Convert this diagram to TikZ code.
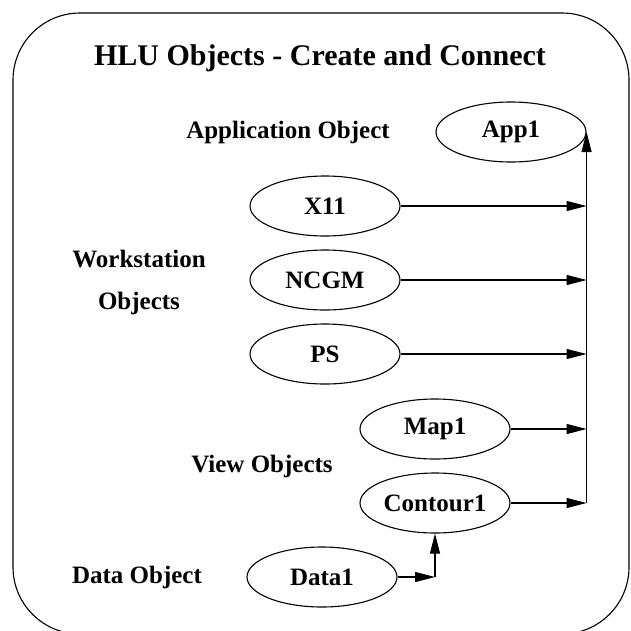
\documentclass[tikz,border=0pt]{standalone}
\usepackage{fontspec}
\setmainfont{Liberation Serif}
\usetikzlibrary{shapes.geometric,arrows.meta,positioning}
\tikzstyle{object} = [ellipse, draw, line width=1.1pt, minimum width=150pt,
    minimum height=60pt, inner sep=0pt, font=\bfseries\fontsize{25}{30}\selectfont]
\tikzstyle{label} = [font=\bfseries\fontsize{25}{30}\selectfont, align=center]
\tikzstyle{line} = [draw, line width=1.1pt, -{Triangle[length=20pt,width=10pt]}]

\begin{document}
\begin{tikzpicture}[x=1pt, y=-1pt, node distance = 74pt]
    \useasboundingbox (0,0) rectangle (631,630);
    % Frame and title
    \draw [line width=1.1pt, rounded corners=67pt] (13,13) rectangle (629,634);
    \node [font=\bfseries\fontsize{30}{36}\selectfont] (title) at (320,58) {HLU Objects - Create and Connect};
    % Place nodes
    \node [object] (app) at (511,132) {App1};
    \node [object] (x11) at (325,206) {X11};
    \node [object, below of=x11] (ncgm) {NCGM};
    \node [object, below of=ncgm] (ps) {PS};
    \node [object] (map) at (435,429) {Map1};
    \node [object, below of=map] (contour) {Contour1};
    \node [object] (data) at (322,577) {Data1};
    % Place labels
    \node [label] (applbl) at (288,132) {Application Object};
    \node [label] (wslbl) at (139,282) {Workstation\\[12pt]Objects};
    \node [label] (viewlbl) at (262,466) {View Objects};
    \node [label] (datalbl) at (137,577) {Data Object};
    \coordinate (spine) at (app.east);
    \coordinate (bend) at (contour.south |- data.east);
    % Draw edges
    \path [line] (x11.east) -- (x11.east -| spine);
    \path [line] (ncgm.east) -- (ncgm.east -| spine);
    \path [line] (ps.east) -- (ps.east -| spine);
    \path [line] (map.east) -- (map.east -| spine);
    \path [line] (contour.east) -- (contour.east -| spine);
    \path [line] (contour.east -| spine) -- (app.east);
    \path [line] (data.east) -- (bend);
    \path [line] (bend) -- (contour.south);
\end{tikzpicture}
\end{document}
